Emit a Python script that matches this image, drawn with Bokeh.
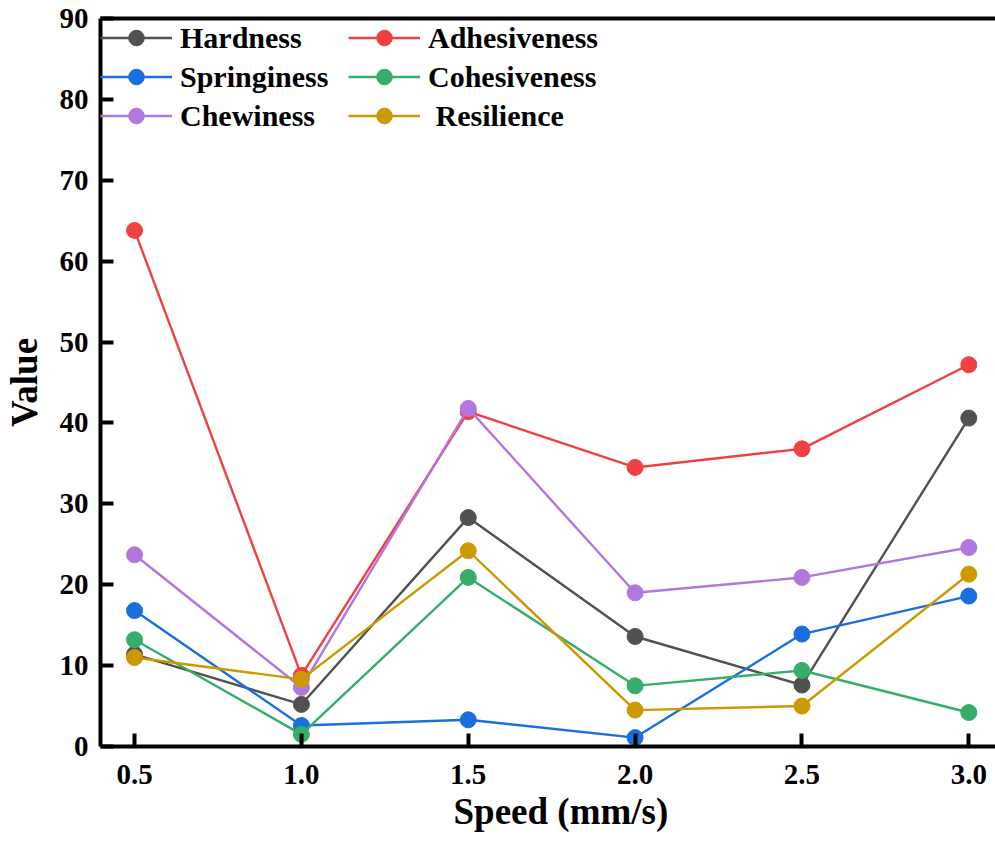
from bokeh.plotting import figure
from bokeh.models import Range1d, Legend, LegendItem, LinearAxis, FixedTicker, CustomJSTickFormatter, Title
from bokeh.embed import file_html
from bokeh.resources import INLINE

speed = [0.5, 1.0, 1.5, 2.0, 2.5, 3.0]
hardness = [11.4, 5.2, 28.3, 13.6, 7.6, 40.6]
adhesiveness = [63.8, 8.8, 41.4, 34.5, 36.8, 47.2]
springiness = [16.8, 2.6, 3.3, 1.1, 13.9, 18.6]
cohesiveness = [13.2, 1.5, 20.9, 7.5, 9.4, 4.2]
chewiness = [23.7, 7.3, 41.8, 19.0, 20.9, 24.6]
resilience = [11.0, 8.3, 24.2, 4.5, 5.0, 21.3]

names = ["Hardness", "Adhesiveness", "Springiness", "Cohesiveness", "Chewiness", " Resilience"]
series = [hardness, adhesiveness, springiness, cohesiveness, chewiness, resilience]
colors = ["#515151", "#F14040", "#1A6FDF", "#37AD6B", "#B177DE", "#CC9900"]
x_ticks = [0.5, 1.0, 1.5, 2.0, 2.5, 3.0]
y_ticks = [0, 10, 20, 30, 40, 50, 60, 70, 80, 90]

FONT = "Liberation Serif"

p = figure(width=995, height=841, output_backend="svg", toolbar_location=None,
           x_range=Range1d(0.398, 3.08), y_range=Range1d(0, 90),
           min_border_left=99, min_border_right=0, min_border_top=18, min_border_bottom=95)
p.outline_line_color = None
p.grid.visible = False
p.background_fill_color = "white"

items = {}
for name, ys, c in zip(names, series, colors):
    l = p.line(speed, ys, line_color=c, line_width=2.4)
    s = p.scatter(speed, ys, size=16, fill_color=c, line_color=c)
    items[name] = LegendItem(label=name, renderers=[l, s])

for ax in [p.xaxis[0], p.yaxis[0]]:
    ax.axis_line_width = 4
    ax.major_tick_line_width = 4
    ax.major_tick_in = 13
    ax.major_tick_out = 0
    ax.minor_tick_line_color = None
    ax.major_label_text_font = FONT
    ax.major_label_text_font_style = "bold"
    ax.major_label_text_font_size = "29px"
    ax.major_label_text_color = "black"
    ax.axis_label_text_font = FONT
    ax.axis_label_text_font_style = "bold"
    ax.axis_label_text_font_size = "37px"
    ax.axis_label_text_color = "black"

p.xaxis[0].ticker = FixedTicker(ticks=x_ticks)
p.yaxis[0].ticker = FixedTicker(ticks=y_ticks)
p.xaxis[0].formatter = CustomJSTickFormatter(code="return tick.toFixed(1);")
p.yaxis[0].axis_label = "Value"
p.xaxis[0].major_label_standoff = 18
p.yaxis[0].major_label_standoff = 12
p.yaxis[0].axis_label_standoff = 12

# x-axis title, centred on the full (cropped) frame of the original
xt = Title(text="Speed (mm/s)", align="left", offset=353, standoff=4,
           text_font=FONT, text_font_style="bold", text_font_size="37px",
           text_color="black")
p.add_layout(xt, "below")

top = LinearAxis(axis_line_width=4, major_tick_line_color=None, minor_tick_line_color=None,
                 major_label_text_font_size="0px", ticker=FixedTicker(ticks=[]))
p.add_layout(top, "above")

order = ["Hardness", "Springiness", "Chewiness", "Adhesiveness", "Cohesiveness", " Resilience"]
legend = Legend(items=[items[n] for n in order], ncols=2, location="top_left",
                margin=0, padding=2, spacing=0, glyph_width=72, glyph_height=39,
                label_height=39, label_standoff=8, label_width=168,
                label_text_font=FONT, label_text_font_style="bold",
                label_text_font_size="30px", label_text_color="black",
                border_line_color=None, background_fill_alpha=0)
p.add_layout(legend, "center")

open("out.html", "w").write(file_html(p, INLINE))
